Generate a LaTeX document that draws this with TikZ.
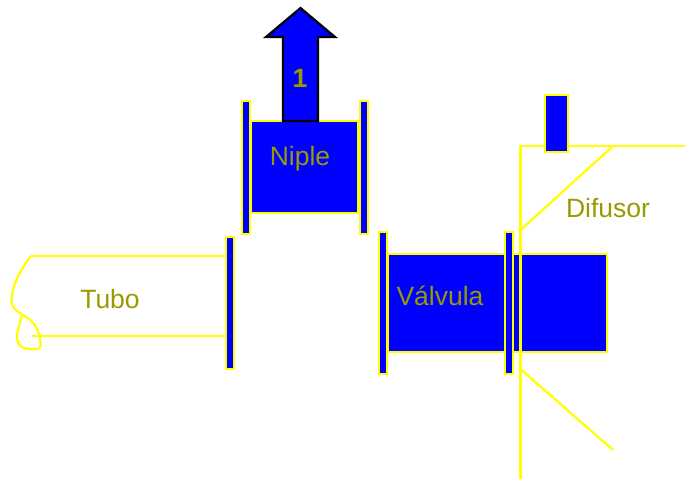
\documentclass[tikz,border=0pt]{standalone}
\usepackage{fontspec}
\setmainfont{Liberation Sans}
\usepackage{tikz}
\usetikzlibrary{positioning}
\definecolor{labelolive}{RGB}{153,153,0}
\definecolor{partyellow}{RGB}{255,255,0}
\definecolor{partblue}{RGB}{0,0,255}

\begin{document}
\begin{tikzpicture}[x=1pt, y=-1pt, line join=miter,
    every node/.style={inner sep=0pt, outer sep=0pt},
    part/.style={draw=partyellow, fill=partblue, line width=2pt},
    pipeline/.style={draw=partyellow, line width=2.2pt},
    partlabel/.style={text=labelolive, font=\fontsize{26.5}{30}\selectfont},]

\useasboundingbox (0,0) rectangle (685,479);

% Tubo
\node[part, minimum width=8.5pt, minimum height=132.5pt] (flangeTubo) at (230,303) {};
\coordinate (tuboTop) at (31,256);
\coordinate (tuboBottom) at (32,336);
\draw[pipeline] (tuboTop) -- (tuboTop -| flangeTubo.west);
\draw[pipeline] (tuboBottom) -- (tuboBottom -| flangeTubo.west);
\draw[pipeline] (tuboTop) .. controls (20,270) and (11,288) .. (11.5,301)
    .. controls (12,316) and (32,312) .. (39,334)
    .. controls (42,346) and (41,349) .. (36,349)
    .. controls (24,350) and (17,347) .. (17,337)
    .. controls (17,331) and (20,324) .. (21.5,316);
\node[partlabel] (tuboLabel) at (110,299) {Tubo};

% Niple
\node[part, minimum width=107pt, minimum height=92pt] (nipleBody) at (304.7,167) {};
\node[part, minimum width=8.5pt, minimum height=133pt] (nipleLeft) at (246,167.3) {};
\node[part, minimum width=8.5pt, minimum height=133pt] (nipleRight) at (364,167.3) {};
\node[partlabel] (nipleLabel) at (300,159) {Niple};

% Saida
\draw[draw=black, fill=partblue, line width=2.2pt] (283,121) -- (283,37) -- (266,37) -- (300.5,8)
    -- (335,37) -- (318,37) -- (318,121) -- cycle;
\node[partlabel, font=\fontsize{26.5}{30}\selectfont\bfseries] (saidaLabel) at (300,78) {1};

% Valvula
\node[part, minimum width=219pt, minimum height=98pt] (valvulaBody) at (497,303) {};
\node[part, minimum width=8.5pt, minimum height=142pt] (valvulaLeft) at (383,303) {};
\node[part, minimum width=8.5pt, minimum height=142pt] (valvulaRight) at (509,303) {};
\node[partlabel] (valvulaLabel) at (440,296) {Válvula};

% Difusor
\coordinate (difusorCorner) at (520.5,146);
\coordinate (difusorEnd) at (685,146);
\coordinate (difusorFoot) at (520.5,479);
\coordinate (coneTop) at (613,146);
\coordinate (coneTopIn) at (520.5,230);
\coordinate (coneLow) at (521.5,370);
\coordinate (coneLowOut) at (613,450);
\draw[pipeline] (difusorEnd) -- (difusorCorner) -- (difusorFoot);
\draw[pipeline] (coneTop) -- (coneTopIn);
\draw[pipeline] (coneLow) -- (coneLowOut);
\node[part, minimum width=23pt, minimum height=57pt] (difusorPlug) at (556.5,123.5) {};
\node[partlabel] (difusorLabel) at (608,208) {Difusor};
\end{tikzpicture}
\end{document}
